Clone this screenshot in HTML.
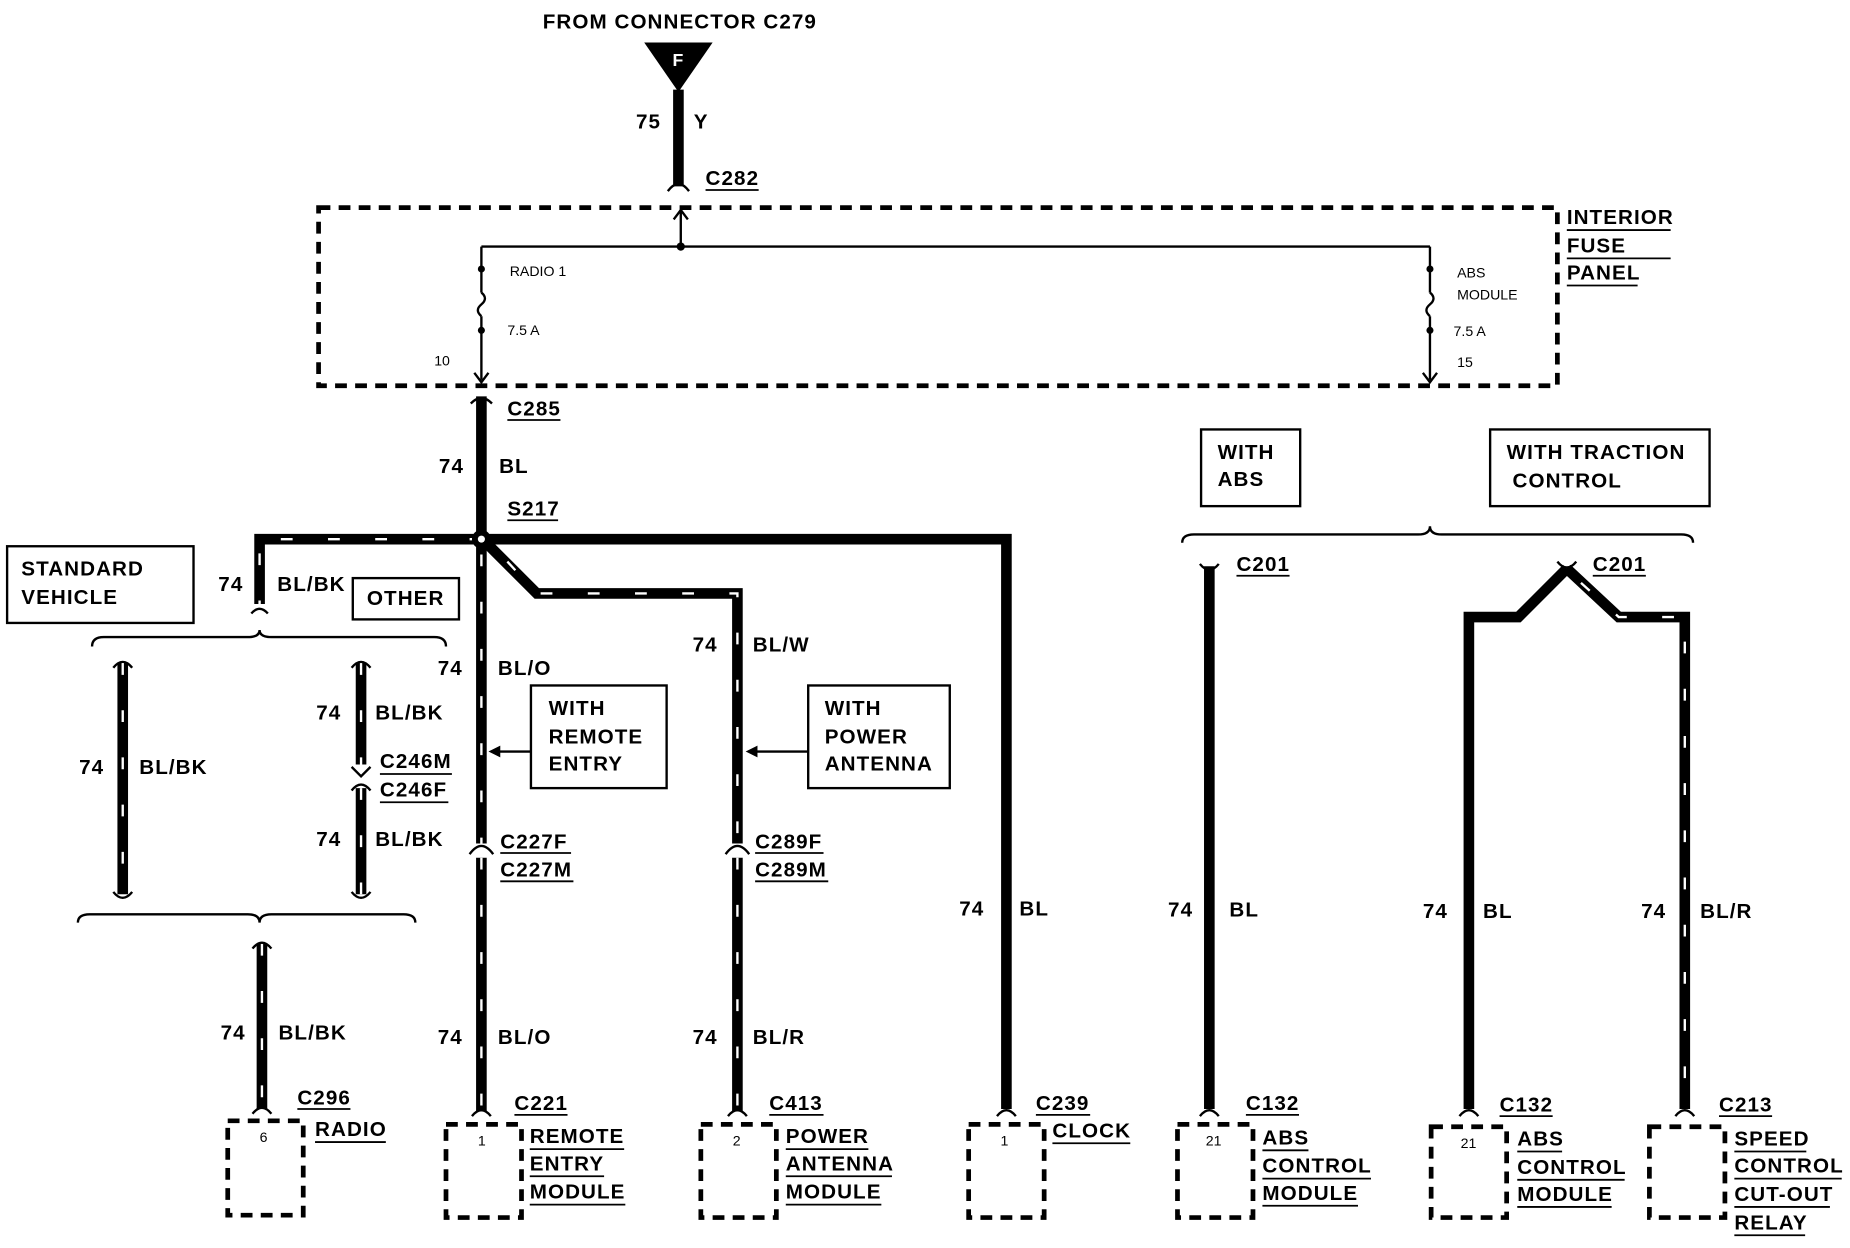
<!DOCTYPE html>
<html><head><meta charset="utf-8"><style>
html,body{margin:0;padding:0;background:#fff;}
svg{display:block}
text{font-family:"Liberation Sans",Arial,sans-serif;font-weight:bold;fill:#000;}
.l{font-size:17.5px;letter-spacing:0.9px}
.s{font-size:12px;font-weight:normal}
.w{stroke:#000;stroke-width:9;fill:none;stroke-linejoin:miter}
.st{stroke:#fff;stroke-width:2;stroke-dasharray:10 30;fill:none}
.t{stroke:#000;stroke-width:2;fill:none}
.box{stroke:#000;stroke-width:2;fill:#fff}
.db{stroke:#000;stroke-width:4;fill:none;stroke-dasharray:10 7}
.u{stroke:#000;stroke-width:1.5}
</style></head><body>
<svg width="1850" height="1248" viewBox="0 0 1568 1057.8" xmlns="http://www.w3.org/2000/svg">
<text x="460" y="24" class="l">FROM CONNECTOR C279</text>
<polygon points="546,36 604,36 575,78" fill="#000"/>
<text x="570" y="56" style="font-size:15px;fill:#fff">F</text>
<line x1="575" y1="76" x2="575" y2="158" class="w"/>
<text x="539" y="109" class="l">75</text><text x="588" y="109" class="l">Y</text>
<text x="598" y="157" class="l">C282</text><line x1="598" y1="161" x2="643" y2="161" class="u"/>
<path d="M566,162 Q575,150 584,162" class="t" stroke-width="3"/>
<rect x="270" y="176" width="1050" height="151" class="db"/>
<path d="M577,178 L577,209 M408,209 L1212,209 M408,209 L408,248 M1212,209 L1212,248 M408,268 L408,322 M1212,268 L1212,322" class="t"/>
<path d="M408,248 q6,5 0,10 q-6,5 0,10 M1212,248 q6,5 0,10 q-6,5 0,10" class="t"/>
<path d="M571,186 L577,178 L583,186 M402,316 L408,324 L414,316 M1206,316 L1212,324 L1218,316" class="t"/>
<circle cx="577" cy="209" r="3.5"/><circle cx="408" cy="228" r="3"/><circle cx="408" cy="280" r="3"/><circle cx="1212" cy="228" r="3"/><circle cx="1212" cy="280" r="3"/>
<text x="432" y="234" class="s">RADIO 1</text><text x="430" y="284" class="s">7.5 A</text><text x="368" y="310" class="s">10</text>
<text x="1235" y="235" class="s">ABS</text><text x="1235" y="254" class="s">MODULE</text><text x="1232" y="285" class="s">7.5 A</text><text x="1235" y="311" class="s">15</text>
<text x="1328" y="190" class="l">INTERIOR</text><line x1="1328" y1="195" x2="1416" y2="195" class="u"/>
<text x="1328" y="214" class="l">FUSE</text><line x1="1328" y1="219" x2="1416" y2="219" class="u"/>
<text x="1328" y="237" class="l">PANEL</text><line x1="1328" y1="242" x2="1388" y2="242" class="u"/>
<line x1="408" y1="336" x2="408" y2="457" class="w"/>
<path d="M399,342 Q408,333 417,342" class="t" stroke-width="3"/>
<text x="430" y="352" class="l">C285</text><line x1="430" y1="356" x2="475" y2="356" class="u"/>
<text x="372" y="401" class="l">74</text><text x="423" y="401" class="l">BL</text>
<text x="430" y="437" class="l">S217</text><line x1="430" y1="441" x2="473" y2="441" class="u"/>
<path d="M408,457 L853,457 L853,940" class="w"/>
<path d="M408,457 L220,457 L220,512" class="w"/><path d="M408,457 L220,457 L220,512" class="st"/>
<circle cx="408" cy="457" r="8" fill="#000"/><circle cx="408" cy="457" r="3" fill="#fff"/>
<text x="185" y="501" class="l">74</text><text x="235" y="501" class="l">BL/BK</text>
<rect x="6" y="463" width="158" height="65" class="box"/>
<text x="18" y="488" class="l">STANDARD</text><text x="18" y="512" class="l">VEHICLE</text>
<rect x="299" y="490" width="90" height="35" class="box"/><text x="311" y="513" class="l">OTHER</text>
<path d="M78,548 Q78,540 88,540 L210,540 Q220,540 220,534 Q220,540 230,540 L368,540 Q378,540 378,548" class="t" stroke-width="3"/>
<path d="M104,562 L104,758 M306,562 L306,648 M306,668 L306,758" class="w"/>
<path d="M104,562 L104,758 M306,562 L306,648 M306,668 L306,758" class="st"/>
<path d="M298,650 L306,658 L314,650" class="t" stroke-width="3"/>
<text x="67" y="656" class="l">74</text><text x="118" y="656" class="l">BL/BK</text>
<text x="268" y="610" class="l">74</text><text x="318" y="610" class="l">BL/BK</text>
<text x="322" y="651" class="l">C246M</text><line x1="322" y1="656" x2="383" y2="656" class="u"/>
<text x="322" y="675" class="l">C246F</text><line x1="322" y1="680" x2="380" y2="680" class="u"/>
<text x="268" y="717" class="l">74</text><text x="318" y="717" class="l">BL/BK</text>
<path d="M66,782 Q66,775 76,775 L210,775 Q220,775 220,782 Q220,775 230,775 L342,775 Q352,775 352,782" class="t" stroke-width="3"/>
<line x1="222" y1="800" x2="222" y2="940" class="w"/><line x1="222" y1="800" x2="222" y2="940" class="st"/>
<text x="187" y="881" class="l">74</text><text x="236" y="881" class="l">BL/BK</text>
<text x="252" y="936" class="l">C296</text><line x1="252" y1="940" x2="297" y2="940" class="u"/>
<rect x="193" y="950" width="64" height="80" class="db" fill="#f4f4f4"/><text x="220" y="968" class="s">6</text>
<text x="267" y="963" class="l">RADIO</text><line x1="267" y1="968" x2="327" y2="968" class="u"/>
<path d="M408,460 L408,715 M408,727 L408,942" class="w"/>
<path d="M408,470 L408,715 M408,727 L408,942" class="st"/>
<path d="M398,724 Q408,710 418,724" class="t" stroke-width="3"/>
<text x="371" y="572" class="l">74</text><text x="422" y="572" class="l">BL/O</text>
<rect x="450" y="581" width="115" height="87" class="box"/>
<text x="465" y="606" class="l">WITH</text><text x="465" y="630" class="l">REMOTE</text><text x="465" y="653" class="l">ENTRY</text>
<line x1="450" y1="637" x2="418" y2="637" class="t"/><polygon points="414,637 424,632 424,642"/>
<text x="424" y="719" class="l">C227F</text><line x1="424" y1="723" x2="484" y2="723" class="u"/>
<text x="424" y="743" class="l">C227M</text><line x1="424" y1="747" x2="486" y2="747" class="u"/>
<text x="371" y="885" class="l">74</text><text x="422" y="885" class="l">BL/O</text>
<text x="436" y="941" class="l">C221</text><line x1="436" y1="945" x2="481" y2="945" class="u"/>
<rect x="378" y="953" width="64" height="79" class="db" fill="#f4f4f4"/><text x="405" y="971" class="s">1</text>
<text x="449" y="969" class="l">REMOTE</text><line x1="449" y1="974" x2="529" y2="974" class="u"/>
<text x="449" y="992" class="l">ENTRY</text><line x1="449" y1="997" x2="512" y2="997" class="u"/>
<text x="449" y="1016" class="l">MODULE</text><line x1="449" y1="1021" x2="530" y2="1021" class="u"/>
<path d="M412,460 L455,503 L625,503 L625,715 M625,727 L625,942" class="w"/>
<path d="M430,476 L455,503 L625,503 L625,715 M625,727 L625,942" class="st"/>
<path d="M615,724 Q625,710 635,724" class="t" stroke-width="3"/>
<text x="587" y="552" class="l">74</text><text x="638" y="552" class="l">BL/W</text>
<rect x="685" y="581" width="120" height="87" class="box"/>
<text x="699" y="606" class="l">WITH</text><text x="699" y="630" class="l">POWER</text><text x="699" y="653" class="l">ANTENNA</text>
<line x1="685" y1="637" x2="636" y2="637" class="t"/><polygon points="632,637 642,632 642,642"/>
<text x="640" y="719" class="l">C289F</text><line x1="640" y1="723" x2="698" y2="723" class="u"/>
<text x="640" y="743" class="l">C289M</text><line x1="640" y1="747" x2="702" y2="747" class="u"/>
<text x="587" y="885" class="l">74</text><text x="638" y="885" class="l">BL/R</text>
<text x="652" y="941" class="l">C413</text><line x1="652" y1="945" x2="698" y2="945" class="u"/>
<rect x="594" y="953" width="64" height="79" class="db" fill="#f4f4f4"/><text x="621" y="971" class="s">2</text>
<text x="666" y="969" class="l">POWER</text><line x1="666" y1="974" x2="736" y2="974" class="u"/>
<text x="666" y="992" class="l">ANTENNA</text><line x1="666" y1="997" x2="756" y2="997" class="u"/>
<text x="666" y="1016" class="l">MODULE</text><line x1="666" y1="1021" x2="747" y2="1021" class="u"/>
<text x="813" y="776" class="l">74</text><text x="864" y="776" class="l">BL</text>
<text x="878" y="941" class="l">C239</text><line x1="878" y1="945" x2="924" y2="945" class="u"/>
<rect x="821" y="953" width="64" height="79" class="db" fill="#f4f4f4"/><text x="848" y="971" class="s">1</text>
<text x="892" y="964" class="l">CLOCK</text><line x1="892" y1="969" x2="958" y2="969" class="u"/>
<rect x="1018" y="364" width="84" height="65" class="box"/>
<text x="1032" y="389" class="l">WITH</text><text x="1032" y="412" class="l">ABS</text>
<rect x="1263" y="364" width="186" height="65" class="box"/>
<text x="1277" y="389" class="l">WITH TRACTION</text><text x="1282" y="413" class="l">CONTROL</text>
<path d="M1002,460 Q1002,453 1012,453 L1202,453 Q1212,453 1212,446 Q1212,453 1222,453 L1425,453 Q1435,453 1435,460" class="t" stroke-width="3"/>
<line x1="1025" y1="480" x2="1025" y2="940" class="w"/>
<text x="1048" y="484" class="l">C201</text><line x1="1048" y1="488" x2="1093" y2="488" class="u"/>
<text x="990" y="777" class="l">74</text><text x="1042" y="777" class="l">BL</text>
<text x="1056" y="941" class="l">C132</text><line x1="1056" y1="945" x2="1101" y2="945" class="u"/>
<rect x="998" y="953" width="64" height="79" class="db" fill="#f4f4f4"/><text x="1022" y="971" class="s">21</text>
<text x="1070" y="970" class="l">ABS</text><line x1="1070" y1="975" x2="1109" y2="975" class="u"/>
<text x="1070" y="994" class="l">CONTROL</text><line x1="1070" y1="999" x2="1162" y2="999" class="u"/>
<text x="1070" y="1017" class="l">MODULE</text><line x1="1070" y1="1022" x2="1151" y2="1022" class="u"/>
<path d="M1328,482 L1287,523 L1245,523 L1245,940" class="w"/>
<path d="M1328,482 L1372,523 L1428,523 L1428,940" class="w"/>
<path d="M1340,494 L1372,523 L1428,523 L1428,940" class="st"/>
<text x="1350" y="484" class="l">C201</text><line x1="1350" y1="488" x2="1395" y2="488" class="u"/>
<text x="1206" y="778" class="l">74</text><text x="1257" y="778" class="l">BL</text>
<text x="1391" y="778" class="l">74</text><text x="1441" y="778" class="l">BL/R</text>
<text x="1271" y="942" class="l">C132</text><line x1="1271" y1="946" x2="1316" y2="946" class="u"/>
<rect x="1213" y="955" width="64" height="77" class="db" fill="#f4f4f4"/><text x="1238" y="973" class="s">21</text>
<text x="1286" y="971" class="l">ABS</text><line x1="1286" y1="976" x2="1324" y2="976" class="u"/>
<text x="1286" y="995" class="l">CONTROL</text><line x1="1286" y1="1000" x2="1377" y2="1000" class="u"/>
<text x="1286" y="1018" class="l">MODULE</text><line x1="1286" y1="1023" x2="1366" y2="1023" class="u"/>
<text x="1457" y="942" class="l">C213</text><line x1="1457" y1="946" x2="1502" y2="946" class="u"/>
<rect x="1398" y="955" width="64" height="77" class="db" fill="#f4f4f4"/>
<text x="1470" y="971" class="l">SPEED</text><line x1="1470" y1="976" x2="1531" y2="976" class="u"/>
<text x="1470" y="994" class="l">CONTROL</text><line x1="1470" y1="999" x2="1561" y2="999" class="u"/>
<text x="1470" y="1018" class="l">CUT-OUT</text><line x1="1470" y1="1023" x2="1551" y2="1023" class="u"/>
<text x="1470" y="1042" class="l">RELAY</text><line x1="1470" y1="1047" x2="1530" y2="1047" class="u"/>
<g class="t" stroke-width="3">
<path d="M213,520 Q220,512 227,520 M96,566 Q104,556 112,566 M298,566 Q306,556 314,566 M298,670 Q306,660 314,670 M96,756 Q104,766 112,756 M298,756 Q306,766 314,756 M214,804 Q222,794 230,804"/>
<path d="M214,944 Q222,934 230,944 M400,946 Q408,936 416,946 M617,946 Q625,936 633,946 M845,946 Q853,936 861,946 M1017,946 Q1025,936 1033,946 M1237,946 Q1245,936 1253,946 M1420,946 Q1428,936 1436,946 M1017,478 Q1025,488 1033,478 M1320,476 Q1328,486 1336,476"/>
</g>
</svg>
</body></html>
